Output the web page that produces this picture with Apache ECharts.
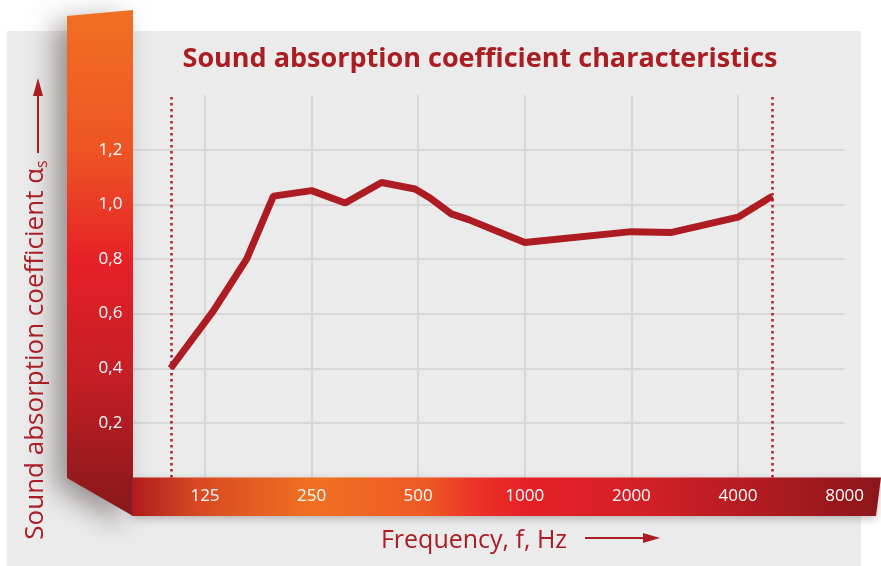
<!DOCTYPE html>
<html>
<head>
<meta charset="utf-8">
<script src="https://cdn.jsdelivr.net/npm/echarts@6/dist/echarts.min.js"></script>
<style>
  html, body { margin: 0; padding: 0; background: #fff; }
  #chart { width: 881px; height: 566px; }
</style>
</head>
<body>
<div id="chart"></div>
<script>
  // measured curve (frequency in Hz, absorption coefficient)
  const freqs = [100, 132, 164, 195, 250, 311, 394, 490, 540, 620, 694, 1000, 2000, 2600, 4000, 5000];
  const alpha = [0.40, 0.61, 0.80, 1.03, 1.05, 1.005, 1.08, 1.056, 1.023, 0.965, 0.944, 0.86, 0.90, 0.897, 0.953, 1.03];
  // octave band labels on the bottom strip
  const octaveLabels = ['125', '250', '500', '1000', '2000', '4000', '8000'];
  const baseFreq = 125;
  // dotted limits of the measuring range
  const rangeLimits = [100, 5000];

  const red = '#A91D23';
  const font = '"Open Sans", sans-serif';

  // x axis works in octaves relative to 125 Hz
  const oct = f => Math.log2(f / baseFreq);

  const chart = echarts.init(document.getElementById('chart'));

  chart.setOption({
    animation: false,
    grid: { left: 98.4, right: 36.4, top: 95, bottom: 88.4 },
    xAxis: [
      {
        type: 'value', position: 'bottom', min: -1, max: 6, interval: 1, z: 1,
        axisLine: { show: false }, axisTick: { show: false }, axisLabel: { show: false },
        splitLine: { show: true, showMinLine: false, showMaxLine: false, lineStyle: { color: '#D8D8D8', width: 2 } }
      },
      {
        type: 'value', position: 'bottom', min: -1, max: 6, interval: 1, z: 4,
        axisLine: { show: false }, axisTick: { show: false }, splitLine: { show: false },
        axisLabel: {
          color: '#fff', fontFamily: font, fontSize: 17, margin: 10,
          formatter: v => (v >= 0 ? octaveLabels[v] : '')
        }
      }
    ],
    yAxis: [
      {
        type: 'value', position: 'left', min: 0, max: 1.4, interval: 0.2, z: 1,
        axisLine: { show: false }, axisTick: { show: false }, axisLabel: { show: false },
        splitLine: { show: true, showMinLine: false, showMaxLine: false, lineStyle: { color: '#D8D8D8', width: 2 } }
      },
      {
        type: 'value', position: 'left', min: 0, max: 1.4, interval: 0.2, z: 4, offset: -26,
        axisLine: { show: false }, axisTick: { show: false }, splitLine: { show: false },
        axisLabel: {
          color: '#fff', fontFamily: font, fontSize: 17, margin: 2,
          formatter: v => (v > 0.01 && v < 1.3 ? v.toFixed(1).replace('.', ',') : '')
        }
      }
    ],
    series: [{
      type: 'line',
      z: 3,
      xAxisIndex: 0,
      yAxisIndex: 0,
      data: freqs.map((f, i) => [oct(f), alpha[i]]),
      symbol: 'none',
      lineStyle: { color: '#AD1C22', width: 7 },
      markLine: {
        silent: true,
        symbol: 'none',
        label: { show: false },
        lineStyle: { color: '#B01C22', width: 2.5, type: [2.5, 3.5] },
        data: rangeLimits.map(f => ({ xAxis: oct(f) }))
      }
    }],
    graphic: [
      // panel
      { type: 'rect', z: -10, shape: { x: 7, y: 31, width: 854, height: 535 }, style: { fill: '#EBEBEB' } },
      // left 3d strip
      {
        type: 'polygon', z: 2,
        shape: { points: [[67, 16], [133, 10], [133, 516], [67, 478]] },
        style: {
          fill: {
            type: 'linear', x: 0, y: 0, x2: 0, y2: 1,
            colorStops: [
              { offset: 0, color: '#F07022' },
              { offset: 0.28, color: '#EE5424' },
              { offset: 0.5, color: '#E52027' },
              { offset: 0.73, color: '#C41E24' },
              { offset: 0.92, color: '#961A1E' },
              { offset: 1, color: '#8A181C' }
            ]
          },
          shadowBlur: 28, shadowOffsetX: -12, shadowOffsetY: 8, shadowColor: 'rgba(70,50,50,0.5)'
        }
      },
      // bottom strip
      {
        type: 'polygon', z: 2,
        shape: { points: [[132, 477.6], [881, 477.6], [876, 516], [132, 516]] },
        style: {
          fill: {
            type: 'linear', x: 0, y: 0, x2: 1, y2: 0,
            colorStops: [
              { offset: 0, color: '#B01C1E' },
              { offset: 0.09, color: '#D84A22' },
              { offset: 0.24, color: '#F07022' },
              { offset: 0.39, color: '#EE5A24' },
              { offset: 0.46, color: '#EB3228' },
              { offset: 0.53, color: '#E52027' },
              { offset: 0.69, color: '#D22026' },
              { offset: 1, color: '#8B161B' }
            ]
          },
          shadowBlur: 8, shadowOffsetY: 3, shadowColor: 'rgba(70,50,50,0.3)'
        }
      },
      // title
      {
        type: 'text', z: 5, x: 480, y: 59,
        style: {
          text: 'Sound absorption coefficient characteristics',
          fill: red, font: 'bold 27px ' + font, align: 'center', verticalAlign: 'middle'
        }
      },
      // y axis name
      {
        type: 'text', z: 5, x: 36, y: 350, rotation: Math.PI / 2,
        style: {
          text: '{a|Sound absorption coefficient α}{s|s}',
          align: 'center', verticalAlign: 'middle',
          rich: {
            a: { fill: red, fontFamily: font, fontSize: 26 },
            s: { fill: red, fontFamily: font, fontSize: 16, padding: [12, 0, 0, 0] }
          }
        }
      },
      {
        type: 'line', z: 5, shape: { x1: 38, y1: 153, x2: 38, y2: 92 },
        style: { stroke: red, lineWidth: 2 }
      },
      {
        type: 'polygon', z: 5, shape: { points: [[38, 78], [33, 96], [43, 96]] },
        style: { fill: red }
      },
      // x axis name
      {
        type: 'text', z: 5, x: 474, y: 541,
        style: { text: 'Frequency, f, Hz', fill: red, font: '25px ' + font, align: 'center', verticalAlign: 'middle' }
      },
      {
        type: 'line', z: 5, shape: { x1: 585, y1: 538, x2: 646, y2: 538 },
        style: { stroke: red, lineWidth: 2 }
      },
      {
        type: 'polygon', z: 5, shape: { points: [[660, 538], [643, 533], [643, 543]] },
        style: { fill: red }
      }
    ]
  });
</script>
</body>
</html>
